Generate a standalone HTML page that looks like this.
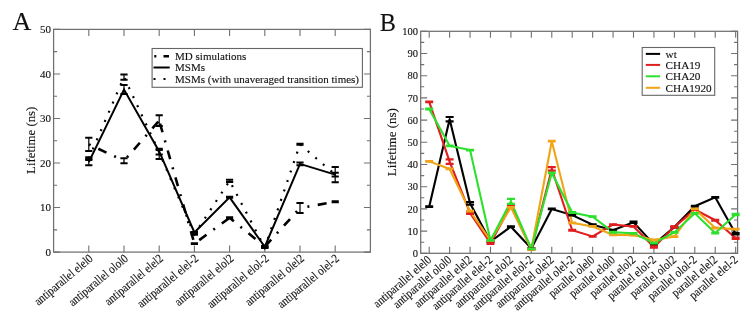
<!DOCTYPE html>
<html><head><meta charset="utf-8"><style>
html,body{margin:0;padding:0;background:#fff;width:754px;height:320px;overflow:hidden;position:relative}
</style></head><body>
<svg width="754" height="320" viewBox="0 0 754 320" style="position:absolute;left:0;top:0;filter:blur(0.3px)">
<g font-family='"Liberation Serif", serif' fill="#111">
<style>text{stroke:#111;stroke-width:0.12px}</style>
<text x="12.6" y="29.8" font-size="26">A</text>
<text transform="translate(379.8 31.2) scale(0.935 1)" font-size="26">B</text>
<rect x="53.6" y="29.4" width="316.8" height="222.7" fill="none" stroke="#707070" stroke-width="1.25"/>
<text x="50.9" y="255.8" text-anchor="end" font-size="11">0</text>
<text x="50.9" y="211.26" text-anchor="end" font-size="11">10</text>
<text x="50.9" y="166.72" text-anchor="end" font-size="11">20</text>
<text x="50.9" y="122.18" text-anchor="end" font-size="11">30</text>
<text x="50.9" y="77.64" text-anchor="end" font-size="11">40</text>
<text x="50.9" y="33.1" text-anchor="end" font-size="11">50</text>
<path d="M53.6 252.1h6.5M370.4 252.1h-6.5M53.6 229.83h3.5M370.4 229.83h-3.5M53.6 207.56h6.5M370.4 207.56h-6.5M53.6 185.29h3.5M370.4 185.29h-3.5M53.6 163.02h6.5M370.4 163.02h-6.5M53.6 140.75h3.5M370.4 140.75h-3.5M53.6 118.48h6.5M370.4 118.48h-6.5M53.6 96.21h3.5M370.4 96.21h-3.5M53.6 73.94h6.5M370.4 73.94h-6.5M53.6 51.67h3.5M370.4 51.67h-3.5M53.6 29.4h6.5M370.4 29.4h-6.5" stroke="#707070" stroke-width="1.1" fill="none"/>
<path d="M88.8 252.1v-6.5M88.8 29.4v6.5M124 252.1v-6.5M124 29.4v6.5M159.2 252.1v-6.5M159.2 29.4v6.5M194.4 252.1v-6.5M194.4 29.4v6.5M229.6 252.1v-6.5M229.6 29.4v6.5M264.8 252.1v-6.5M264.8 29.4v6.5M300 252.1v-6.5M300 29.4v6.5M335.2 252.1v-6.5M335.2 29.4v6.5" stroke="#707070" stroke-width="1.1" fill="none"/>
<text transform="translate(93.6 259.7) rotate(-40) scale(0.98 1.12)" text-anchor="end" font-size="11">antiparallel elel0</text>
<text transform="translate(128.8 259.7) rotate(-40) scale(0.98 1.12)" text-anchor="end" font-size="11">antiparallel olol0</text>
<text transform="translate(164 259.7) rotate(-40) scale(0.98 1.12)" text-anchor="end" font-size="11">antiparallel elel2</text>
<text transform="translate(199.2 259.7) rotate(-40) scale(0.98 1.12)" text-anchor="end" font-size="11">antiparallel elel-2</text>
<text transform="translate(234.4 259.7) rotate(-40) scale(0.98 1.12)" text-anchor="end" font-size="11">antiparallel elol2</text>
<text transform="translate(269.6 259.7) rotate(-40) scale(0.98 1.12)" text-anchor="end" font-size="11">antiparallel elol-2</text>
<text transform="translate(304.8 259.7) rotate(-40) scale(0.98 1.12)" text-anchor="end" font-size="11">antiparallel olel2</text>
<text transform="translate(340 259.7) rotate(-40) scale(0.98 1.12)" text-anchor="end" font-size="11">antiparallel olel-2</text>
<text transform="translate(34.6 140.3) rotate(-90)" text-anchor="middle" font-size="12.8">Lifetime (ns)</text>
<polyline points="88.8,158.57 124,77.06 159.2,152.33 194.4,234.28 229.6,180.84 264.8,247.65 300,144.31 335.2,174.6" fill="none" stroke="#000" stroke-width="2.2" stroke-linejoin="miter" stroke-linecap="butt" stroke-dasharray="2 8"/>
<polyline points="88.8,162.13 124,89.53 159.2,151.44 194.4,232.5 229.6,197.32 264.8,246.76 300,163.91 335.2,174.6" fill="none" stroke="#000" stroke-width="2" stroke-linejoin="miter" stroke-linecap="butt"/>
<path d="M88.8 144.31L124 160.79" stroke="#000" stroke-width="2.6" fill="none" stroke-dasharray="9 8.5 2 8.5" stroke-dashoffset="17.5"/>
<path d="M124 160.79L159.2 120.71" stroke="#000" stroke-width="2.6" fill="none" stroke-dasharray="9 8.5 2 8.5" stroke-dashoffset="13"/>
<path d="M159.2 120.71L194.4 243.64" stroke="#000" stroke-width="2.6" fill="none" stroke-dasharray="9 8.5 2 8.5" stroke-dashoffset="25"/>
<path d="M194.4 243.64L229.6 217.8" stroke="#000" stroke-width="2.6" fill="none" stroke-dasharray="9 8.5 2 8.5" stroke-dashoffset="22"/>
<path d="M229.6 217.8L264.8 246.76" stroke="#000" stroke-width="2.6" fill="none" stroke-dasharray="9 8.5 2 8.5" stroke-dashoffset="3.5"/>
<path d="M264.8 246.76L300 208.01" stroke="#000" stroke-width="2.6" fill="none" stroke-dasharray="9 8.5 2 8.5" stroke-dashoffset="27.5"/>
<path d="M300 208.01L335.2 201.77" stroke="#000" stroke-width="2.6" fill="none" stroke-dasharray="9 8.5 2 8.5" stroke-dashoffset="10"/>
<path d="M88.8 150.99V137.63M124 163.24V158.34M159.2 126.05V115.36M194.4 244.08V243.19M229.6 218.25V217.36M264.8 247.2V246.31M300 212.9V203.11M335.2 202.22V201.32" stroke="#000" stroke-width="1.2" fill="none"/>
<path d="M85.2 150.99h7.2M85.2 137.63h7.2M120.4 163.24h7.2M120.4 158.34h7.2M155.6 126.05h7.2M155.6 115.36h7.2M190.8 244.08h7.2M190.8 243.19h7.2M226 218.25h7.2M226 217.36h7.2M261.2 247.2h7.2M261.2 246.31h7.2M296.4 212.9h7.2M296.4 203.11h7.2M331.6 202.22h7.2M331.6 201.32h7.2" stroke="#000" stroke-width="2" fill="none"/>
<path d="M88.8 165.25V159.01M124 93.98V85.07M159.2 159.01V148.77M194.4 232.95V232.06M229.6 197.76V196.87M264.8 247.42V246.09M300 165.25V162.57M335.2 182.17V167.03" stroke="#000" stroke-width="1.2" fill="none"/>
<path d="M85.2 165.25h7.2M85.2 159.01h7.2M120.4 93.98h7.2M120.4 85.07h7.2M155.6 159.01h7.2M155.6 148.77h7.2M190.8 232.95h7.2M190.8 232.06h7.2M226 197.76h7.2M226 196.87h7.2M261.2 247.42h7.2M261.2 246.09h7.2M296.4 165.25h7.2M296.4 162.57h7.2M331.6 182.17h7.2M331.6 167.03h7.2" stroke="#000" stroke-width="2" fill="none"/>
<path d="M88.8 159.9V157.23M124 79.73V74.39M159.2 154.56V150.1M194.4 234.73V233.84M229.6 181.95V179.72M264.8 248.09V247.2M300 144.76V143.87M335.2 176.38V172.82" stroke="#000" stroke-width="1.2" fill="none"/>
<path d="M85.2 159.9h7.2M85.2 157.23h7.2M120.4 79.73h7.2M120.4 74.39h7.2M155.6 154.56h7.2M155.6 150.1h7.2M190.8 234.73h7.2M190.8 233.84h7.2M226 181.95h7.2M226 179.72h7.2M261.2 248.09h7.2M261.2 247.2h7.2M296.4 144.76h7.2M296.4 143.87h7.2M331.6 176.38h7.2M331.6 172.82h7.2" stroke="#000" stroke-width="2" fill="none"/>
<rect x="152.1" y="48.5" width="210.3" height="38.8" fill="#fff" stroke="#666" stroke-width="1.1"/>
<polyline points="154.3,56.3 169.5,56.3" fill="none" stroke="#000" stroke-width="2.6" stroke-linejoin="miter" stroke-linecap="butt" stroke-dasharray="2 7.2 5.5 10"/>
<polyline points="153.5,67.5 169.7,67.5" fill="none" stroke="#000" stroke-width="2" stroke-linejoin="miter" stroke-linecap="butt"/>
<polyline points="153.5,79 169.7,79" fill="none" stroke="#000" stroke-width="2.2" stroke-linejoin="miter" stroke-linecap="butt" stroke-dasharray="2 8"/>
<text x="175.1" y="59.8" font-size="11">MD simulations</text>
<text x="175.1" y="71" font-size="11">MSMs</text>
<text x="175.1" y="82.5" font-size="11">MSMs (with unaveraged transition times)</text>
<rect x="420.7" y="31.3" width="316.9" height="222" fill="none" stroke="#707070" stroke-width="1.25"/>
<text x="417.9" y="257" text-anchor="end" font-size="10.5">0</text>
<text x="417.9" y="234.8" text-anchor="end" font-size="10.5">10</text>
<text x="417.9" y="212.6" text-anchor="end" font-size="10.5">20</text>
<text x="417.9" y="190.4" text-anchor="end" font-size="10.5">30</text>
<text x="417.9" y="168.2" text-anchor="end" font-size="10.5">40</text>
<text x="417.9" y="146" text-anchor="end" font-size="10.5">50</text>
<text x="417.9" y="123.8" text-anchor="end" font-size="10.5">60</text>
<text x="417.9" y="101.6" text-anchor="end" font-size="10.5">70</text>
<text x="417.9" y="79.4" text-anchor="end" font-size="10.5">80</text>
<text x="417.9" y="57.2" text-anchor="end" font-size="10.5">90</text>
<text x="417.9" y="35" text-anchor="end" font-size="10.5">100</text>
<path d="M420.7 253.3h6.5M737.6 253.3h-6.5M420.7 242.2h3.5M737.6 242.2h-3.5M420.7 231.1h6.5M737.6 231.1h-6.5M420.7 220h3.5M737.6 220h-3.5M420.7 208.9h6.5M737.6 208.9h-6.5M420.7 197.8h3.5M737.6 197.8h-3.5M420.7 186.7h6.5M737.6 186.7h-6.5M420.7 175.6h3.5M737.6 175.6h-3.5M420.7 164.5h6.5M737.6 164.5h-6.5M420.7 153.4h3.5M737.6 153.4h-3.5M420.7 142.3h6.5M737.6 142.3h-6.5M420.7 131.2h3.5M737.6 131.2h-3.5M420.7 120.1h6.5M737.6 120.1h-6.5M420.7 109h3.5M737.6 109h-3.5M420.7 97.9h6.5M737.6 97.9h-6.5M420.7 86.8h3.5M737.6 86.8h-3.5M420.7 75.7h6.5M737.6 75.7h-6.5M420.7 64.6h3.5M737.6 64.6h-3.5M420.7 53.5h6.5M737.6 53.5h-6.5M420.7 42.4h3.5M737.6 42.4h-3.5M420.7 31.3h6.5M737.6 31.3h-6.5" stroke="#707070" stroke-width="1.1" fill="none"/>
<path d="M429.2 253.3v-6.5M429.2 31.3v6.5M449.63 253.3v-6.5M449.63 31.3v6.5M470.06 253.3v-6.5M470.06 31.3v6.5M490.49 253.3v-6.5M490.49 31.3v6.5M510.92 253.3v-6.5M510.92 31.3v6.5M531.35 253.3v-6.5M531.35 31.3v6.5M551.78 253.3v-6.5M551.78 31.3v6.5M572.21 253.3v-6.5M572.21 31.3v6.5M592.64 253.3v-6.5M592.64 31.3v6.5M613.07 253.3v-6.5M613.07 31.3v6.5M633.5 253.3v-6.5M633.5 31.3v6.5M653.93 253.3v-6.5M653.93 31.3v6.5M674.36 253.3v-6.5M674.36 31.3v6.5M694.79 253.3v-6.5M694.79 31.3v6.5M715.22 253.3v-6.5M715.22 31.3v6.5M735.65 253.3v-6.5M735.65 31.3v6.5" stroke="#707070" stroke-width="1.1" fill="none"/>
<text transform="translate(432 260.9) rotate(-41) scale(0.98 1.12)" text-anchor="end" font-size="11">antiparallel elel0</text>
<text transform="translate(452.43 260.9) rotate(-41) scale(0.98 1.12)" text-anchor="end" font-size="11">antiparallel olol0</text>
<text transform="translate(472.86 260.9) rotate(-41) scale(0.98 1.12)" text-anchor="end" font-size="11">antiparallel elel2</text>
<text transform="translate(493.29 260.9) rotate(-41) scale(0.98 1.12)" text-anchor="end" font-size="11">antiparallel elel-2</text>
<text transform="translate(513.72 260.9) rotate(-41) scale(0.98 1.12)" text-anchor="end" font-size="11">antiparallel elol2</text>
<text transform="translate(534.15 260.9) rotate(-41) scale(0.98 1.12)" text-anchor="end" font-size="11">antiparallel elol-2</text>
<text transform="translate(554.58 260.9) rotate(-41) scale(0.98 1.12)" text-anchor="end" font-size="11">antiparallel olel2</text>
<text transform="translate(575.01 260.9) rotate(-41) scale(0.98 1.12)" text-anchor="end" font-size="11">antiparallel olel-2</text>
<text transform="translate(595.44 260.9) rotate(-41) scale(0.98 1.12)" text-anchor="end" font-size="11">parallel olel0</text>
<text transform="translate(615.87 260.9) rotate(-41) scale(0.98 1.12)" text-anchor="end" font-size="11">parallel elol0</text>
<text transform="translate(636.3 260.9) rotate(-41) scale(0.98 1.12)" text-anchor="end" font-size="11">parallel elol2</text>
<text transform="translate(656.73 260.9) rotate(-41) scale(0.98 1.12)" text-anchor="end" font-size="11">parallel elol-2</text>
<text transform="translate(677.16 260.9) rotate(-41) scale(0.98 1.12)" text-anchor="end" font-size="11">parallel olol2</text>
<text transform="translate(697.59 260.9) rotate(-41) scale(0.98 1.12)" text-anchor="end" font-size="11">parallel olol-2</text>
<text transform="translate(718.02 260.9) rotate(-41) scale(0.98 1.12)" text-anchor="end" font-size="11">parallel elel2</text>
<text transform="translate(738.45 260.9) rotate(-41) scale(0.98 1.12)" text-anchor="end" font-size="11">parallel elel-2</text>
<text transform="translate(396.2 142.2) rotate(-90)" text-anchor="middle" font-size="13">Lifetime (ns)</text>
<polyline points="429.2,206.68 449.63,119.21 470.06,203.35 490.49,241.53 510.92,226.66 531.35,248.42 551.78,208.9 572.21,215.12 592.64,224.66 613.07,230.21 633.5,222.22 653.93,244.42 674.36,227.1 694.79,206.24 715.22,197.36 735.65,233.76" fill="none" stroke="#000" stroke-width="2.1" stroke-linejoin="miter" stroke-linecap="butt"/>
<polyline points="429.2,101.9 449.63,161.61 470.06,212.9 490.49,243.31 510.92,205.57 531.35,249.3 551.78,168.94 572.21,230.21 592.64,236.43 613.07,224.66 633.5,226.44 653.93,247.08 674.36,227.1 694.79,209.57 715.22,220.22 735.65,238.2" fill="none" stroke="#e01e1e" stroke-width="2.1" stroke-linejoin="miter" stroke-linecap="butt"/>
<polyline points="429.2,161.39 449.63,168.94 470.06,211.12 490.49,240.42 510.92,207.35 531.35,249.3 551.78,141.19 572.21,222.89 592.64,226.44 613.07,234.87 633.5,235.1 653.93,239.98 674.36,236.65 694.79,208.9 715.22,227.99 735.65,229.1" fill="none" stroke="#f0a418" stroke-width="2.1" stroke-linejoin="miter" stroke-linecap="butt"/>
<polyline points="429.2,109 449.63,145.85 470.06,150.07 490.49,240.42 510.92,201.35 531.35,248.86 551.78,172.94 572.21,212.45 592.64,216.67 613.07,232.21 633.5,233.32 653.93,243.09 674.36,232.43 694.79,213.34 715.22,233.1 735.65,214.45" fill="none" stroke="#2ee02e" stroke-width="2.1" stroke-linejoin="miter" stroke-linecap="butt"/>
<path d="M429.2 207.01V206.35M449.63 121.43V116.99M470.06 204.68V202.02M490.49 241.87V241.2M510.92 226.99V226.33M531.35 248.75V248.08M551.78 209.23V208.57M572.21 215.45V214.78M592.64 225V224.33M613.07 230.55V229.88M633.5 222.89V221.55M653.93 244.75V244.09M674.36 227.44V226.77M694.79 206.57V205.9M715.22 197.69V197.02M735.65 234.43V233.1" stroke="#000" stroke-width="1.5" fill="none"/>
<path d="M425.2 207.01h8M425.2 206.35h8M445.63 121.43h8M445.63 116.99h8M466.06 204.68h8M466.06 202.02h8M486.49 241.87h8M486.49 241.2h8M506.92 226.99h8M506.92 226.33h8M527.35 248.75h8M527.35 248.08h8M547.78 209.23h8M547.78 208.57h8M568.21 215.45h8M568.21 214.78h8M588.64 225h8M588.64 224.33h8M609.07 230.55h8M609.07 229.88h8M629.5 222.89h8M629.5 221.55h8M649.93 244.75h8M649.93 244.09h8M670.36 227.44h8M670.36 226.77h8M690.79 206.57h8M690.79 205.9h8M711.22 197.69h8M711.22 197.02h8M731.65 234.43h8M731.65 233.1h8" stroke="#000" stroke-width="2.2" fill="none"/>
<path d="M429.2 102.23V101.56M449.63 163.83V159.39M470.06 213.78V212.01M490.49 243.98V242.64M510.92 205.9V205.24M531.35 249.64V248.97M551.78 170.72V167.16M572.21 230.55V229.88M592.64 236.76V236.1M613.07 225V224.33M633.5 226.77V226.11M653.93 247.75V246.42M674.36 227.77V226.44M694.79 209.9V209.23M715.22 220.56V219.89M735.65 238.87V237.54" stroke="#e01e1e" stroke-width="1.5" fill="none"/>
<path d="M425.2 102.23h8M425.2 101.56h8M445.63 163.83h8M445.63 159.39h8M466.06 213.78h8M466.06 212.01h8M486.49 243.98h8M486.49 242.64h8M506.92 205.9h8M506.92 205.24h8M527.35 249.64h8M527.35 248.97h8M547.78 170.72h8M547.78 167.16h8M568.21 230.55h8M568.21 229.88h8M588.64 236.76h8M588.64 236.1h8M609.07 225h8M609.07 224.33h8M629.5 226.77h8M629.5 226.11h8M649.93 247.75h8M649.93 246.42h8M670.36 227.77h8M670.36 226.44h8M690.79 209.9h8M690.79 209.23h8M711.22 220.56h8M711.22 219.89h8M731.65 238.87h8M731.65 237.54h8" stroke="#e01e1e" stroke-width="2.2" fill="none"/>
<path d="M429.2 161.73V161.06M449.63 169.27V168.61M470.06 211.45V210.79M490.49 240.76V240.09M510.92 207.68V207.01M531.35 249.64V248.97M551.78 141.52V140.86M572.21 223.22V222.55M592.64 226.77V226.11M613.07 235.21V234.54M633.5 235.43V234.76M653.93 240.31V239.65M674.36 236.98V236.32M694.79 209.23V208.57M715.22 228.33V227.66M735.65 229.44V228.77" stroke="#f0a418" stroke-width="1.5" fill="none"/>
<path d="M425.2 161.73h8M425.2 161.06h8M445.63 169.27h8M445.63 168.61h8M466.06 211.45h8M466.06 210.79h8M486.49 240.76h8M486.49 240.09h8M506.92 207.68h8M506.92 207.01h8M527.35 249.64h8M527.35 248.97h8M547.78 141.52h8M547.78 140.86h8M568.21 223.22h8M568.21 222.55h8M588.64 226.77h8M588.64 226.11h8M609.07 235.21h8M609.07 234.54h8M629.5 235.43h8M629.5 234.76h8M649.93 240.31h8M649.93 239.65h8M670.36 236.98h8M670.36 236.32h8M690.79 209.23h8M690.79 208.57h8M711.22 228.33h8M711.22 227.66h8M731.65 229.44h8M731.65 228.77h8" stroke="#f0a418" stroke-width="2.2" fill="none"/>
<path d="M429.2 109.33V108.67M449.63 146.19V145.52M470.06 150.4V149.74M490.49 240.76V240.09M510.92 203.79V198.91M531.35 249.19V248.53M551.78 173.27V172.6M572.21 212.79V212.12M592.64 217V216.34M613.07 232.54V231.88M633.5 233.65V232.99M653.93 243.42V242.76M674.36 232.77V232.1M694.79 213.67V213.01M715.22 233.43V232.77M735.65 215.12V213.78" stroke="#2ee02e" stroke-width="1.5" fill="none"/>
<path d="M425.2 109.33h8M425.2 108.67h8M445.63 146.19h8M445.63 145.52h8M466.06 150.4h8M466.06 149.74h8M486.49 240.76h8M486.49 240.09h8M506.92 203.79h8M506.92 198.91h8M527.35 249.19h8M527.35 248.53h8M547.78 173.27h8M547.78 172.6h8M568.21 212.79h8M568.21 212.12h8M588.64 217h8M588.64 216.34h8M609.07 232.54h8M609.07 231.88h8M629.5 233.65h8M629.5 232.99h8M649.93 243.42h8M649.93 242.76h8M670.36 232.77h8M670.36 232.1h8M690.79 213.67h8M690.79 213.01h8M711.22 233.43h8M711.22 232.77h8M731.65 215.12h8M731.65 213.78h8" stroke="#2ee02e" stroke-width="2.2" fill="none"/>
<rect x="642.2" y="47.5" width="72.5" height="47.8" fill="#fff" stroke="#666" stroke-width="1.1"/>
<polyline points="645.8,53.9 660.1,53.9" fill="none" stroke="#000" stroke-width="2" stroke-linejoin="miter" stroke-linecap="butt"/>
<text x="665.6" y="57.6" font-size="11.2">wt</text>
<polyline points="645.8,64.9 660.1,64.9" fill="none" stroke="#e01e1e" stroke-width="2" stroke-linejoin="miter" stroke-linecap="butt"/>
<text x="665.6" y="68.6" font-size="11.2">CHA19</text>
<polyline points="645.8,76.3 660.1,76.3" fill="none" stroke="#2ee02e" stroke-width="2" stroke-linejoin="miter" stroke-linecap="butt"/>
<text x="665.6" y="80" font-size="11.2">CHA20</text>
<polyline points="645.8,87.8 660.1,87.8" fill="none" stroke="#f0a418" stroke-width="2" stroke-linejoin="miter" stroke-linecap="butt"/>
<text x="665.6" y="91.5" font-size="11.2">CHA1920</text>
</g></svg>
</body></html>
